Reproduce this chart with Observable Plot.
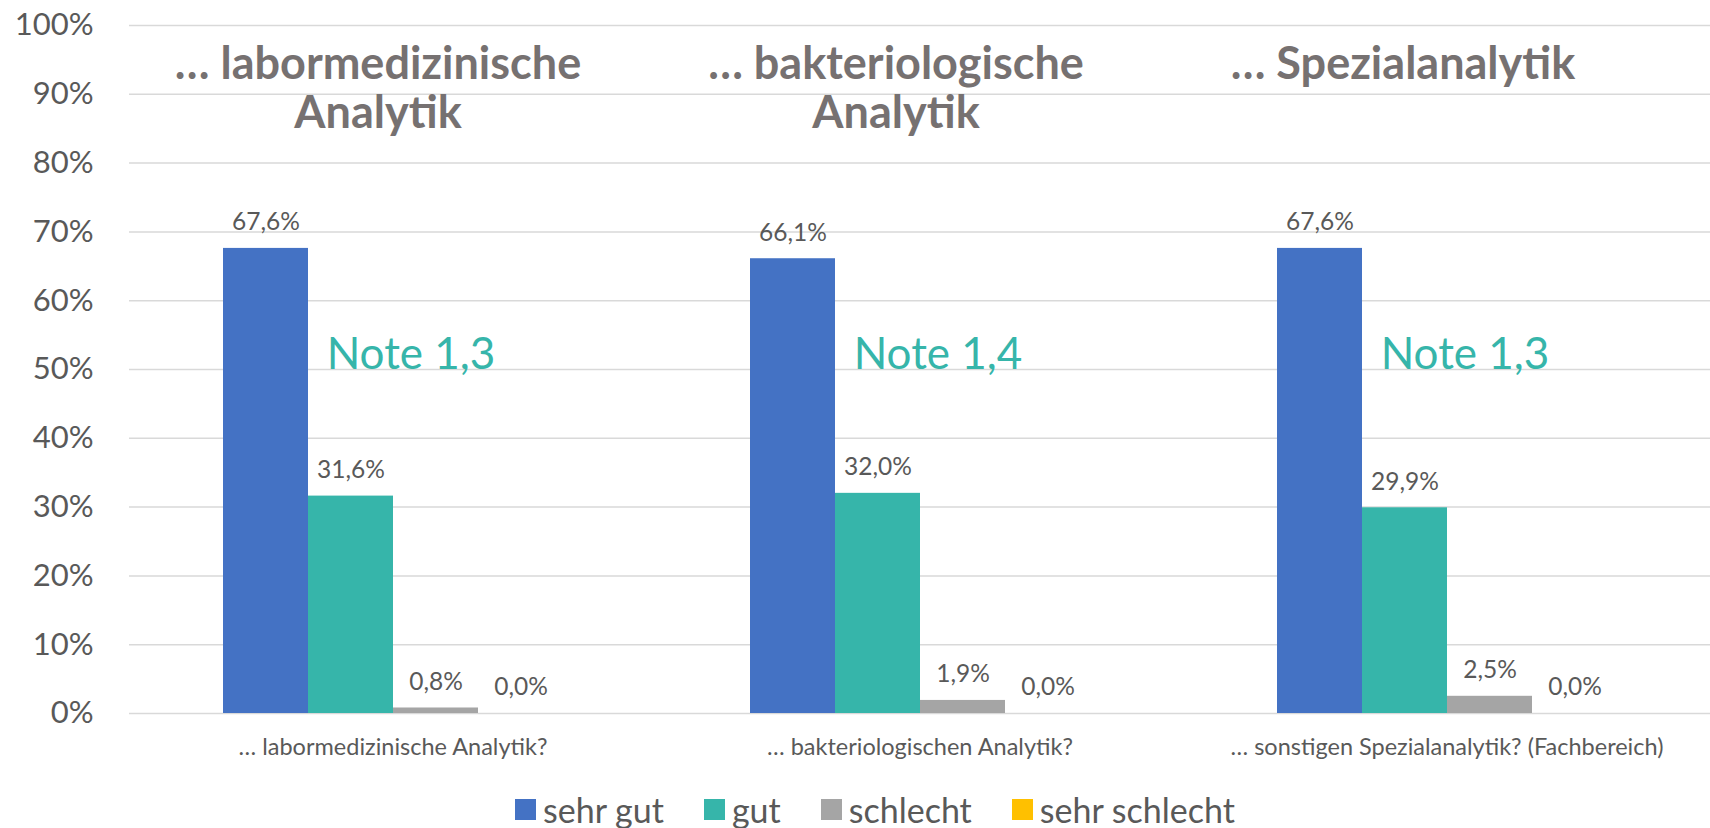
<!DOCTYPE html>
<html>
<head>
<meta charset="utf-8">
<script src="https://cdn.jsdelivr.net/npm/d3@7"></script>
<script src="https://cdn.jsdelivr.net/npm/@observablehq/plot@0.6"></script>
<style>
  html, body { margin: 0; padding: 0; background: #fff; }
  #chart { width: 1710px; }
  .legend { display: flex; justify-content: center; align-items: center; gap: 40px;
            font-family: Lato, sans-serif; font-size: 34px; color: #595959;
            height: 53px; padding-left: 40px; padding-top: 8px; }
  .legend .item { display: flex; align-items: center; gap: 7px; }
  .legend .sw { width: 21px; height: 21px; display: inline-block; }
</style>
</head>
<body>
<div id="chart"></div>
<script>
// ---- data ----
const categories = ["… labormedizinische Analytik?", "… bakteriologischen Analytik?", "… sonstigen Spezialanalytik? (Fachbereich)"];
const titles = ["… labormedizinische\nAnalytik", "… bakteriologische\nAnalytik", "… Spezialanalytik"];
const notes = ["Note 1,3", "Note 1,4", "Note 1,3"];
const ratings = ["sehr gut", "gut", "schlecht", "sehr schlecht"];
const colors = ["#4472C4", "#36B5AA", "#A5A5A5", "#FFC000"];
const sehrGut = [67.6, 66.1, 67.6];
const gut = [31.6, 32.0, 29.9];
const schlecht = [0.8, 1.9, 2.5];
const sehrSchlecht = [0.0, 0.0, 0.0];
const yTicks = [0, 10, 20, 30, 40, 50, 60, 70, 80, 90, 100];

// ---- table ----
const series = [sehrGut, gut, schlecht, sehrSchlecht];
const rows = [];
categories.forEach((c, i) => ratings.forEach((r, j) => rows.push({category: c, rating: r, value: series[j][i]})));
const fmt = d => d3.format(".1f")(d).replace(".", ",") + "%";

const titleDx = [-15, -24, -44];
const titleMarks = titles.map((t, i) => Plot.text([t], {
  fx: () => categories[i], text: d => d, frameAnchor: "top", lineAnchor: "top",
  dy: 19, dx: titleDx[i], fontSize: 45, fontWeight: "bold", fill: "#767171", lineHeight: 1.09
}));

const chart = Plot.plot({
  width: 1710, height: 775,
  marginLeft: 129, marginRight: 0, marginTop: 25, marginBottom: 62,
  style: {fontFamily: "Lato, sans-serif", color: "#595959", background: "white"},
  fx: {domain: categories, padding: 0, label: null},
  x: {domain: ratings, paddingInner: 0, paddingOuter: 1.1, axis: null},
  y: {domain: [0, 100], label: null},
  color: {domain: ratings, range: colors},
  marks: [
    Plot.gridY(yTicks, {stroke: "#d9d9d9", strokeOpacity: 1, strokeWidth: 1.5}),
    Plot.axisY({ticks: yTicks, tickFormat: d => d + "%", tickSize: 0, tickPadding: 36, fontSize: 31, label: null}),
    Plot.axisFx({anchor: "bottom", tickSize: 0, tickPadding: 25, fontSize: 23.5, label: null}),
    Plot.barY(rows, {fx: "category", x: "rating", y: "value", fill: "rating"}),
    Plot.text(rows, {fx: "category", x: "rating", y: "value", text: d => fmt(d.value), dy: -26, fontSize: 24.5, fill: "#595959"}),
    Plot.text(notes, {fx: (d, i) => categories[i], text: d => d, frameAnchor: "middle", dx: 18, dy: -15, fontSize: 44, fill: "#36B5AA"}),
    ...titleMarks
  ]
});
document.getElementById("chart").appendChild(chart);

const legend = document.createElement("div");
legend.className = "legend";
ratings.forEach((r, i) => {
  const it = document.createElement("div");
  it.className = "item";
  const sw = document.createElement("span");
  sw.className = "sw"; sw.style.background = colors[i];
  const tx = document.createElement("span");
  tx.textContent = r;
  it.appendChild(sw); it.appendChild(tx);
  legend.appendChild(it);
});
document.getElementById("chart").appendChild(legend);
</script>
</body>
</html>
